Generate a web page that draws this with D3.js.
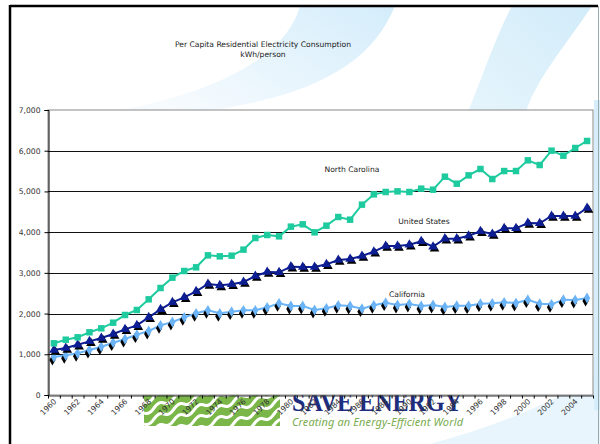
<!DOCTYPE html>
<html>
<head>
<meta charset="utf-8">
<script src="https://cdn.jsdelivr.net/npm/d3@7"></script>
<style>
  html, body { margin: 0; padding: 0; background: #fff; }
  svg { display: block; }
</style>
</head>
<body>
<div id="chart"></div>
<script>
// values (kWh/person)
const years = d3.range(1960, 2006)
const northCarolina = [1270, 1358, 1417, 1540, 1638, 1776, 1965, 2088, 2350, 2628,
  2882, 3046, 3136, 3430, 3406, 3422, 3570, 3856, 3930, 3897,
  4135, 4192, 3995, 4159, 4372, 4306, 4675, 4928, 4986, 5002,
  4986, 5068, 5043, 5362, 5190, 5395, 5551, 5305, 5501, 5501,
  5764, 5649, 6001, 5878, 6067, 6239]
const unitedStates = [1105, 1154, 1236, 1318, 1400, 1498, 1613, 1711, 1908, 2104,
  2276, 2399, 2546, 2726, 2693, 2718, 2775, 2923, 3021, 3013,
  3152, 3145, 3145, 3209, 3316, 3340, 3414, 3520, 3659, 3659,
  3692, 3774, 3643, 3840, 3840, 3913, 4020, 3954, 4094, 4094,
  4224, 4216, 4396, 4396, 4396, 4593]
const california = [933, 975, 1024, 1105, 1187, 1285, 1375, 1482, 1572, 1711,
  1793, 1908, 2006, 2080, 2006, 2047, 2080, 2080, 2153, 2252,
  2186, 2186, 2088, 2129, 2203, 2186, 2120, 2203, 2268, 2210,
  2235, 2186, 2210, 2161, 2194, 2194, 2243, 2252, 2276, 2260,
  2341, 2243, 2227, 2341, 2333, 2382]
const yTicks = [0, 1000, 2000, 3000, 4000, 5000, 6000, 7000]
const titleLines = ["Per Capita Residential Electricity Consumption", "kWh/person"]

const W = 600, H = 444
const plot = { left: 48, right: 593, top: 110, bottom: 395 }
const font = "DejaVu Sans, Verdana, sans-serif"

const svg = d3.select("#chart").append("svg")
  .attr("width", W)
  .attr("height", H)

/**
 * Slide background with light blue swooshes
 */
const defs = svg.append("defs")
const gA = defs.append("linearGradient").attr("id", "gA")
  .attr("x1", "1").attr("y1", "0").attr("x2", "0").attr("y2", "0.6")
gA.append("stop").attr("offset", "0").attr("stop-color", "#d4edfb")
gA.append("stop").attr("offset", "1").attr("stop-color", "#f7fbfe")
const gB = defs.append("linearGradient").attr("id", "gB")
  .attr("x1", "1").attr("y1", "0").attr("x2", "0").attr("y2", "1")
gB.append("stop").attr("offset", "0").attr("stop-color", "#d2ecfa")
gB.append("stop").attr("offset", "1").attr("stop-color", "#e6f5fc")

svg.append("rect").attr("width", W).attr("height", H).attr("fill", "#fff")
svg.append("path")
  .attr("d", "M300,6 L395,6 C372,62 318,96 200,112 L110,112 C225,92 288,52 300,6 Z")
  .attr("fill", "url(#gA)")
svg.append("path")
  .attr("d", "M512,6 L592,6 C562,50 536,80 526,112 L468,112 C488,62 498,32 512,6 Z")
  .attr("fill", "url(#gB)")
svg.append("path")
  .attr("d", "M430,444 C500,425 560,400 600,372 L600,444 Z")
  .attr("fill", "#e8f5fc")
svg.append("rect").attr("x", 594).attr("y", 100).attr("width", 6).attr("height", 310)
  .attr("fill", "#d6eefb")

/**
 * SAVE ENERGY logo (sits under the plot area)
 */
const logo = svg.append("g")
logo.append("clipPath").attr("id", "logoClip")
  .append("rect").attr("x", 144).attr("y", 380).attr("width", 136).attr("height", 46)
const waves = logo.append("g").attr("clip-path", "url(#logoClip)")
waves.append("rect").attr("x", 144).attr("y", 380).attr("width", 136).attr("height", 46)
  .attr("fill", "#7ab648")
const waveLine = d3.line().curve(d3.curveBasis)
for (let b = 380; b < 520; b += 11) {
  const pts = d3.range(0, 140, 2).map(x => [144 + x, b - 0.5 * x + 2.6 * Math.sin(2 * Math.PI * x / 20)])
  waves.append("path").attr("d", waveLine(pts))
    .attr("fill", "none").attr("stroke", "#fff").attr("stroke-width", 3)
}
logo.append("text")
  .attr("x", 292).attr("y", 411)
  .attr("font-family", "Liberation Serif, Times New Roman, serif")
  .attr("font-weight", "bold")
  .attr("font-size", 28)
  .attr("fill", "#1e2d7d")
  .attr("textLength", 170)
  .attr("lengthAdjust", "spacingAndGlyphs")
  .text("SAVE ENERGY")
logo.append("text")
  .attr("x", 292).attr("y", 426)
  .attr("font-family", "Noto Sans, sans-serif")
  .attr("font-style", "italic")
  .attr("font-size", 11)
  .attr("fill", "#79ac4f")
  .attr("textLength", 171)
  .text("Creating an Energy-Efficient World")

/**
 * Slide frame
 */
svg.append("line").attr("x1", 10).attr("x2", 598).attr("y1", 6).attr("y2", 6)
  .attr("stroke", "#000").attr("stroke-width", 2.5)
svg.append("line").attr("x1", 10).attr("x2", 10).attr("y1", 5).attr("y2", H)
  .attr("stroke", "#000").attr("stroke-width", 2.5)
svg.append("line").attr("x1", 598.5).attr("x2", 598.5).attr("y1", 6).attr("y2", H)
  .attr("stroke", "#9aa").attr("stroke-width", 1)

/**
 * Title
 */
svg.append("g").selectAll("text")
  .data(titleLines)
  .enter().append("text")
  .attr("x", 263)
  .attr("y", (d, i) => 47 + i * 10)
  .attr("text-anchor", "middle")
  .attr("font-family", font)
  .attr("font-size", 7.6)
  .attr("fill", "#222")
  .text(d => d)

/**
 * Scales
 */
const x = d3.scaleBand()
  .domain(years)
  .range([plot.left, plot.right])
const xi = d3.scaleLinear()
  .domain([0, years.length])
  .range([plot.left, plot.right])
const y = d3.scaleLinear()
  .domain([0, 7000])
  .range([plot.bottom, plot.top])
const cx = d => x(d) + x.bandwidth() / 2

/**
 * Plot area
 */
svg.append("rect")
  .attr("x", plot.left).attr("y", plot.top)
  .attr("width", plot.right - plot.left).attr("height", plot.bottom - plot.top)
  .attr("fill", "#fff").attr("stroke", "#888").attr("stroke-width", 1)

svg.append("g").selectAll("line")
  .data(yTicks.filter(t => t > 0 && t < 7000))
  .enter().append("line")
  .attr("x1", plot.left).attr("x2", plot.right)
  .attr("y1", d => Math.round(y(d)) + 0.5).attr("y2", d => Math.round(y(d)) + 0.5)
  .attr("stroke", "#111").attr("stroke-width", 1)

// y axis
const yAxis = svg.append("g")
  .attr("transform", `translate(${plot.left + 0.5},0)`)
  .call(d3.axisLeft(y).tickValues(yTicks).tickFormat(d3.format(",")).tickSize(4).tickPadding(4))
yAxis.select(".domain").attr("stroke", "#000")
yAxis.selectAll(".tick line").attr("stroke", "#000")
yAxis.selectAll("text")
  .attr("font-family", font).attr("font-size", 7.6).attr("fill", "#333")

// x axis: ticks at category boundaries
const xAxis = svg.append("g")
  .attr("transform", `translate(0,${plot.bottom + 0.5})`)
  .call(d3.axisBottom(xi).tickValues(d3.range(years.length + 1)).tickFormat("").tickSize(3).tickSizeOuter(0))
xAxis.select(".domain").attr("stroke", "#333")
xAxis.selectAll(".tick line").attr("stroke", "#000")

svg.append("g").selectAll("text")
  .data(years.filter(d => d % 2 === 0))
  .enter().append("text")
  .attr("transform", d => `translate(${cx(d) + 3},${plot.bottom + 7}) rotate(-45)`)
  .attr("text-anchor", "end")
  .attr("font-family", font)
  .attr("font-size", 7.6)
  .attr("fill", "#333")
  .text(d => d)

/**
 * Series
 */
const line = d3.line()
  .x((d, i) => cx(years[i]))
  .y(d => y(d))

const symSquare = d3.symbol().type(d3.symbolSquare).size(42)
const symTri = d3.symbol().type(d3.symbolTriangle).size(40)
const symDiamond = d3.symbol().type(d3.symbolDiamond).size(34)

const series = [
  { name: "California", values: california, color: "#6ab4f7", sym: symDiamond, shadow: [-1.5, 3], label: [407, 297] },
  { name: "United States", values: unitedStates, color: "#0d1e94", sym: symTri, shadow: [1.5, 2], label: [424, 224] },
  { name: "North Carolina", values: northCarolina, color: "#1ecb9f", sym: symSquare, shadow: null, label: [352, 172] }
]

series.forEach(s => {
  const g = svg.append("g")
  g.append("path")
    .attr("d", line(s.values))
    .attr("fill", "none")
    .attr("stroke", s.color)
    .attr("stroke-width", 2)
  if (s.shadow) {
    g.selectAll(".shadow")
      .data(s.values)
      .enter().append("path")
      .attr("class", "shadow")
      .attr("d", s.sym())
      .attr("transform", (d, i) => `translate(${cx(years[i]) + s.shadow[0]},${y(d) + s.shadow[1]})`)
      .attr("fill", "#000")
  }
  g.selectAll(".mark")
    .data(s.values)
    .enter().append("path")
    .attr("class", "mark")
    .attr("d", s.sym())
    .attr("transform", (d, i) => `translate(${cx(years[i])},${y(d)})`)
    .attr("fill", s.color)
  g.append("text")
    .attr("x", s.label[0]).attr("y", s.label[1])
    .attr("text-anchor", "middle")
    .attr("font-family", font)
    .attr("font-size", 7.6)
    .attr("fill", "#222")
    .text(s.name)
})
</script>
</body>
</html>
